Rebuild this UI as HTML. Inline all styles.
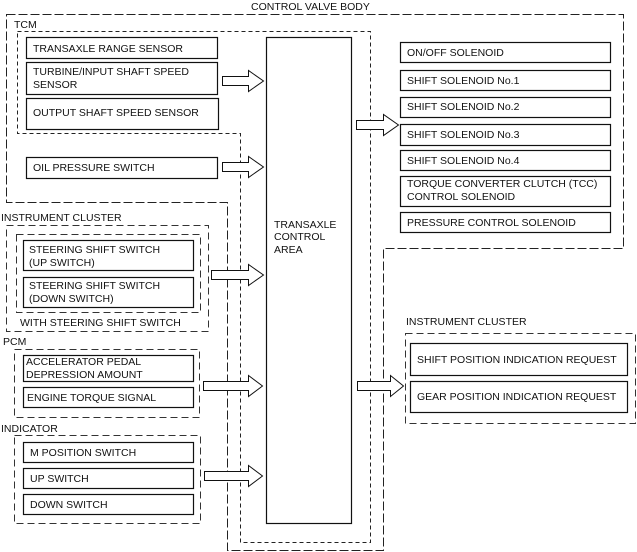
<!DOCTYPE html>
<html><head><style>
html,body{margin:0;padding:0;background:#fff}
svg{display:block}
text{font-family:"Liberation Sans",Arial,sans-serif;font-size:10.5px;fill:#111}
</style></head><body>
<svg width="637" height="552" viewBox="0 0 637 552">
<g fill="none" stroke-width="1">
<!-- control valve body -->
<path d="M6.5 14.5 H623.5 V248.5 H383.5 V550.5 H227.5 V202.5 H6.5 Z" stroke="#222" stroke-dasharray="9,3"/>
<!-- TCM -->
<path d="M17.5 31.5 H370.5 V542.5 H240.5 V133.5 H17.5 Z" stroke="#222" stroke-dasharray="4,3"/>
<!-- instrument cluster left -->
<rect x="6.5" y="225.5" width="202" height="106" stroke="#333" stroke-dasharray="7,4"/>
<rect x="16.5" y="234.5" width="184" height="78" stroke="#333" stroke-dasharray="7,4"/>
<rect x="14.5" y="349.5" width="185" height="68" stroke="#333" stroke-dasharray="7,4"/>
<rect x="14.5" y="435.5" width="186" height="88" stroke="#333" stroke-dasharray="7,4"/>
<rect x="405.5" y="333.5" width="230" height="90" stroke="#333" stroke-dasharray="7,4"/>
</g>
<g fill="#fff" stroke="#111" stroke-width="1.2">
<rect x="26.5" y="37.5" width="191" height="21"/>
<rect x="26.5" y="62.5" width="191" height="32"/>
<rect x="26.5" y="98.5" width="192" height="31"/>
<rect x="26.5" y="157.5" width="191" height="21"/>
<rect x="266.5" y="37.5" width="85" height="486"/>
<rect x="400.5" y="42.5" width="210" height="20"/>
<rect x="400.5" y="70.5" width="210" height="20"/>
<rect x="400.5" y="97.5" width="210" height="20"/>
<rect x="400.5" y="124.5" width="210" height="21"/>
<rect x="400.5" y="150.5" width="210" height="20"/>
<rect x="400.5" y="176.5" width="210" height="30"/>
<rect x="400.5" y="212.5" width="210" height="20"/>
<rect x="23.5" y="240.5" width="170" height="30"/>
<rect x="23.5" y="277.5" width="170" height="30"/>
<rect x="23.5" y="355.5" width="170" height="26"/>
<rect x="23.5" y="387.5" width="170" height="20"/>
<rect x="23.5" y="442.5" width="170" height="20"/>
<rect x="23.5" y="468.5" width="170" height="20"/>
<rect x="23.5" y="494.5" width="170" height="20"/>
<rect x="410.5" y="343.5" width="217" height="32"/>
<rect x="410.5" y="381.5" width="217" height="31"/>
</g>
<g fill="#fff" stroke="#111" stroke-width="1">
<polygon points="222.5,76.5 248.5,76.5 248.5,70.5 263.5,81 248.5,91.5 248.5,85.5 222.5,85.5"/>
<polygon points="222.5,162.5 248.5,162.5 248.5,156.5 263.5,167 248.5,177.5 248.5,171.5 222.5,171.5"/>
<polygon points="211.5,270.5 248.5,270.5 248.5,264.5 263.5,275 248.5,285.5 248.5,279.5 211.5,279.5"/>
<polygon points="203.5,381.5 248.5,381.5 248.5,375.5 262.5,386 248.5,396.5 248.5,390.5 203.5,390.5"/>
<polygon points="204.5,471.5 248.5,471.5 248.5,465.5 262.5,476 248.5,486.5 248.5,480.5 204.5,480.5"/>
<polygon points="356.5,120.5 383.5,120.5 383.5,114.5 398.5,125 383.5,135.5 383.5,129.5 356.5,129.5"/>
<polygon points="357.5,381.5 390.5,381.5 390.5,375.5 403.5,386 390.5,396.5 390.5,390.5 357.5,390.5"/>
</g>
<text x="251" y="10">CONTROL VALVE BODY</text>
<text x="14" y="28">TCM</text>
<text x="33" y="52">TRANSAXLE RANGE SENSOR</text>
<text x="33" y="75">TURBINE/INPUT SHAFT SPEED</text>
<text x="33" y="88">SENSOR</text>
<text x="33" y="116">OUTPUT SHAFT SPEED SENSOR</text>
<text x="33" y="171">OIL PRESSURE SWITCH</text>
<text x="274" y="228">TRANSAXLE</text>
<text x="274" y="240">CONTROL</text>
<text x="274" y="253">AREA</text>
<text x="407" y="56">ON/OFF SOLENOID</text>
<text x="407" y="84">SHIFT SOLENOID No.1</text>
<text x="407" y="110">SHIFT SOLENOID No.2</text>
<text x="407" y="138">SHIFT SOLENOID No.3</text>
<text x="407" y="164">SHIFT SOLENOID No.4</text>
<text x="407" y="187">TORQUE CONVERTER CLUTCH (TCC)</text>
<text x="407" y="200">CONTROL SOLENOID</text>
<text x="407" y="226">PRESSURE CONTROL SOLENOID</text>
<text x="1" y="221">INSTRUMENT CLUSTER</text>
<text x="29" y="253">STEERING SHIFT SWITCH</text>
<text x="29" y="266">(UP SWITCH)</text>
<text x="29" y="289">STEERING SHIFT SWITCH</text>
<text x="29" y="302">(DOWN SWITCH)</text>
<text x="20" y="326">WITH STEERING SHIFT SWITCH</text>
<text x="3" y="345">PCM</text>
<text x="26" y="365">ACCELERATOR PEDAL</text>
<text x="26" y="378">DEPRESSION AMOUNT</text>
<text x="27" y="401">ENGINE TORQUE SIGNAL</text>
<text x="1" y="432">INDICATOR</text>
<text x="30" y="456">M POSITION SWITCH</text>
<text x="30" y="482">UP SWITCH</text>
<text x="30" y="508">DOWN SWITCH</text>
<text x="406" y="325">INSTRUMENT CLUSTER</text>
<text x="417" y="363">SHIFT POSITION INDICATION REQUEST</text>
<text x="417" y="400">GEAR POSITION INDICATION REQUEST</text>
</svg>
</body></html>
